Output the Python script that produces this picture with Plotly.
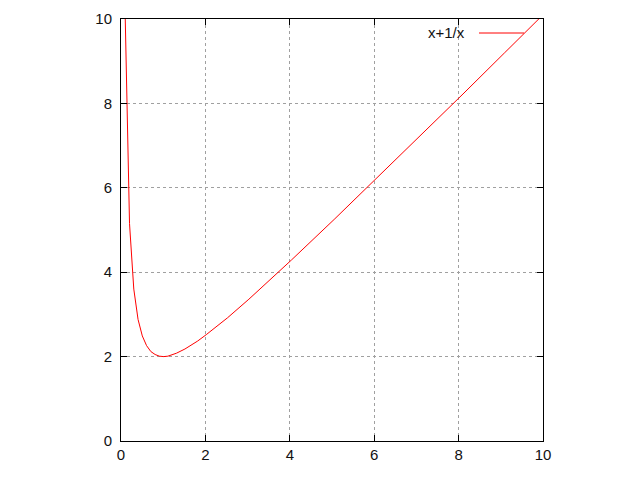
import plotly.graph_objects as go

x_vals = [0.101, 0.202, 0.303, 0.404, 0.505, 0.606, 0.707, 0.808, 0.909, 1.010,
          1.111, 1.212, 1.313, 1.515, 1.818, 2.020, 2.525, 3.030, 3.535, 4.040,
          5.051, 6.061, 7.071, 8.081, 9.091, 10.0]
y_vals = [10.00, 5.15, 3.60, 2.88, 2.49, 2.26, 2.12, 2.05, 2.01, 2.00,
          2.01, 2.04, 2.08, 2.18, 2.37, 2.52, 2.92, 3.36, 3.82, 4.29,
          5.25, 6.23, 7.21, 8.20, 9.20, 10.10]
tick_vals = [0, 2, 4, 6, 8, 10]
series_name = "x+1/x"

# page offset of the plot div in the browser (body margin)
OFF = 8
L, R, T, B = 121, 543, 19, 441  # target plot-area pixel edges
W = R - L
H = B - T

fig = go.Figure()
fig.add_trace(go.Scatter(x=x_vals, y=y_vals, mode="lines",
                         line=dict(color="#ff0000", width=1), name=series_name,
                         showlegend=False))

font = dict(family="Liberation Sans, Arial", size=15, color="#111")
axis_common = dict(
    range=[0, 10], tickvals=tick_vals, ticks="inside", ticklen=6,
    tickcolor="black", showline=True, linecolor="black", linewidth=1,
    mirror="allticks", showgrid=True, gridcolor="#a0a0a0", griddash="dot",
    gridwidth=1, zeroline=False, tickfont=font,
)
fig.update_xaxes(**axis_common)
fig.update_yaxes(**axis_common, ticklabelstandoff=5)

fig.update_layout(
    width=640, height=480,
    margin=dict(l=L - OFF, r=640 - R + OFF, t=T - OFF, b=480 - B + OFF, autoexpand=False),
    plot_bgcolor="white", paper_bgcolor="white",
    showlegend=False,
)

# Legend in gnuplot style: text then line sample
fig.add_annotation(x=(467 - L) / W, y=(B - 32) / H, xref="paper", yref="paper",
                   text=series_name, showarrow=False, xanchor="right",
                   yanchor="middle", font=font)
fig.add_shape(type="line", xref="paper", yref="paper",
              x0=(479 - L) / W, x1=(524 - L) / W,
              y0=(B - 33) / H, y1=(B - 33) / H,
              line=dict(color="#ff0000", width=1))

fig.write_html("out.html")
